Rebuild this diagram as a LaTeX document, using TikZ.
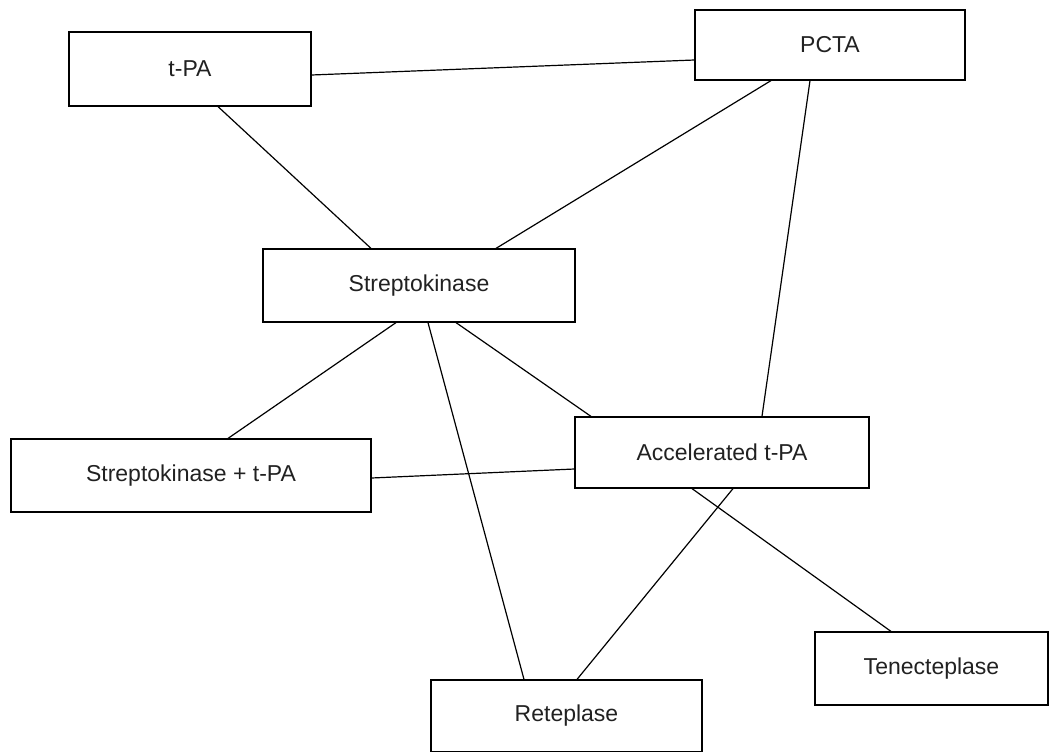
\documentclass[tikz,border=0pt]{standalone}
\usepackage{fontspec}
\setmainfont{Liberation Sans}
\begin{document}
\begin{tikzpicture}[x=1pt,y=-1pt,
  box/.style={draw,line width=1.2pt,rectangle,inner sep=0pt,text=black!87,font=\fontsize{23}{27}\selectfont},
  link/.style={line width=1.2pt}]
\useasboundingbox (0,0) rectangle (1052,752);
% treatment nodes
\node[box,minimum width=242pt,minimum height=74pt] (tpa)   at (190,69)    {t-PA};
\node[box,minimum width=270pt,minimum height=70pt] (pcta)  at (830,45)    {PCTA};
\node[box,minimum width=312pt,minimum height=73pt] (strep) at (419,285.5) {Streptokinase};
\node[box,minimum width=360pt,minimum height=73pt] (sktpa) at (191,475.5) {Streptokinase + t-PA};
\node[box,minimum width=294pt,minimum height=71pt] (acc)   at (722,452.5) {Accelerated t-PA};
\node[box,minimum width=233pt,minimum height=73pt] (ten)   at (931.5,668.5) {Tenecteplase};
\node[box,minimum width=271pt,minimum height=72pt] (ret)   at (566.5,716) {Reteplase};
% comparisons
\draw[link] ([yshift=-6pt]tpa.east) -- ([yshift=-15pt]pcta.west);
\draw[link] ([xshift=28pt]tpa.south) -- ([xshift=-48pt]strep.north);
\draw[link] ([xshift=-59pt]pcta.south) -- ([xshift=77pt]strep.north);
\draw[link] ([xshift=-20pt]pcta.south) -- ([xshift=40pt]acc.north);
\draw[link] ([xshift=-23pt]strep.south) -- ([xshift=37pt]sktpa.north);
\draw[link] ([xshift=37pt]strep.south) -- ([xshift=-131pt]acc.north);
\draw[link] ([xshift=9pt]strep.south) -- ([xshift=-42.5pt]ret.north);
\draw[link] ([yshift=-2.5pt]sktpa.east) -- ([yshift=-16.5pt]acc.west);
\draw[link] ([xshift=-30pt]acc.south) -- ([xshift=-40.5pt]ten.north);
\draw[link] ([xshift=11pt]acc.south) -- ([xshift=10.5pt]ret.north);
\end{tikzpicture}
\end{document}
